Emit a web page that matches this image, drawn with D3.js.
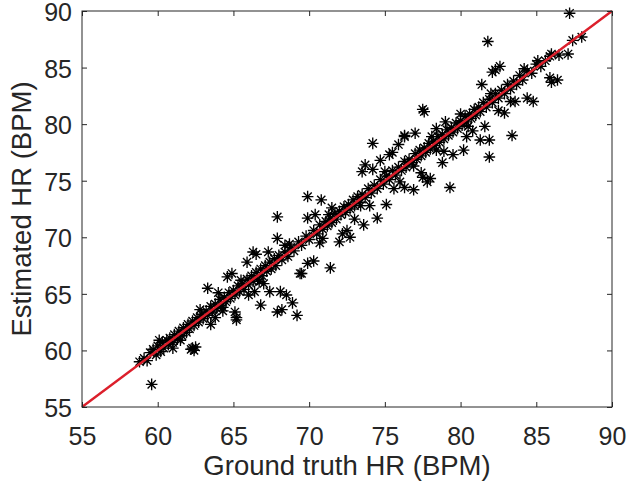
<!DOCTYPE html>
<html><head><meta charset="utf-8">
<script src="https://cdn.jsdelivr.net/npm/d3@7"></script>
<style>body{margin:0;background:#fff}svg{display:block}</style>
</head><body>
<script>
// ---- data: [ground truth HR, estimated HR] ----
const axisTicks = [55, 60, 65, 70, 75, 80, 85, 90];
const xLabel = "Ground truth HR (BPM)";
const yLabel = "Estimated HR (BPM)";

const bandPoints = [
 [58.8,59.0],[59.1,59.3],[59.3,59.1],[59.5,59.8],[59.7,60.1],[59.9,59.6],[60.0,60.4],[60.2,59.9],[60.3,60.7],[60.4,60.2],
 [60.6,60.9],[60.7,60.5],[60.8,61.1],[61.0,60.7],[61.1,61.4],[61.3,61.0],[61.4,61.7],[61.6,61.3],[61.7,62.0],[61.9,61.6],
 [62.0,62.3],[62.1,61.9],[62.3,62.6],[62.4,62.2],[62.6,62.9],[62.7,62.5],[62.9,63.2],[63.0,62.8],[63.2,63.5],[63.3,63.1],
 [63.5,63.9],[63.6,63.4],[63.8,64.1],[63.9,63.7],[64.1,64.5],[64.2,64.0],[64.4,64.7],[64.5,64.3],[64.7,65.1],[64.8,64.6],
 [65.0,65.3],[65.1,64.9],[65.3,65.7],[65.4,65.2],[65.6,65.9],[65.7,65.4],[65.9,66.3],[66.0,65.8],[66.2,66.6],[66.3,66.1],
 [66.5,66.9],[66.6,66.3],[66.8,67.2],[66.9,66.6],[67.1,67.5],[67.2,67.0],[67.4,67.8],[67.5,67.2],[67.7,68.1],[67.8,67.5],
 [68.0,68.4],[68.2,68.0],[68.4,68.7],[68.6,68.3],[68.8,69.1],[69.0,68.8],[69.3,69.6],[69.5,69.3],[69.8,70.1],[70.0,69.8],
 [70.3,70.6],[70.5,70.3],[70.7,71.1],[70.9,70.7],[71.1,71.4],[71.2,71.0],[71.4,71.7],[71.5,71.3],[71.7,72.1],[71.8,71.6],
 [72.0,72.3],[72.1,72.0],[72.3,72.7],[72.4,72.2],[72.6,72.9],[72.7,72.5],[72.9,73.3],[73.0,72.8],[73.2,73.6],[73.3,73.1],
 [73.5,73.8],[73.7,73.5],[73.9,74.3],[74.1,73.9],[74.3,74.6],[74.5,74.3],[74.7,75.1],[74.9,74.7],[75.1,75.4],[75.3,75.1],
 [75.5,75.9],[75.7,75.5],[75.9,76.2],[76.1,75.9],[76.3,76.7],[76.4,76.2],[76.6,76.9],[76.8,76.6],[77.0,77.4],[77.1,76.9],
 [77.3,77.7],[77.4,77.2],[77.6,77.9],[77.7,77.5],[77.9,78.3],[78.0,77.8],[78.2,78.5],[78.3,78.1],[78.5,78.9],[78.6,78.4],
 [78.8,79.1],[78.9,78.7],[79.1,79.5],[79.2,79.0],[79.4,79.7],[79.5,79.3],[79.7,80.1],[79.8,79.6],[80.0,80.3],[80.1,79.9],
 [80.3,80.7],[80.4,80.2],[80.6,80.9],[80.7,80.5],[80.9,81.3],[81.0,80.8],[81.2,81.5],[81.3,81.1],[81.5,81.9],[81.7,81.5],
 [81.9,82.2],[82.1,81.9],[82.3,82.7],[82.5,82.3],[82.7,83.0],[82.9,82.7],[83.1,83.5],[83.3,83.1],[83.5,83.8],[83.7,83.5],
 [83.9,84.3],[84.1,83.9],[84.4,84.7],[84.7,84.5],[85.0,85.3],[85.3,85.1],[85.6,85.6],[86.0,86.2],[86.5,86.1],
 [60.1,60.9],[61.5,60.9],[62.8,63.6],[64.3,63.8],[65.5,66.2],[66.7,66.1],[68.7,69.4],[71.3,72.0],[73.4,72.8],[75.0,75.8],
 [76.9,76.3],[78.1,78.9],[80.5,79.8],[82.0,82.7],[84.2,84.9]
];

const abovePoints = [
 [63.3,65.5],[64.0,65.1],[64.6,66.5],[64.9,66.8],[65.9,67.8],[66.3,68.7],[66.5,68.5],[67.3,68.7],[68.4,69.3],[67.9,69.9],
 [67.9,71.8],[69.9,73.6],[70.8,73.3],[69.9,71.7],[70.4,72.0],[73.5,75.8],[73.7,76.4],[74.2,76.0],[74.7,76.8],[75.3,77.3],
 [75.9,78.2],[76.3,79.0],[77.0,79.2],[74.2,78.3],[77.5,81.3],[77.6,81.1],[76.3,78.9],[80.0,80.9],[81.8,87.3],[82.3,84.8],
 [82.6,85.1],[82.1,84.6],[81.4,83.5],[87.2,89.8],[88.0,87.7],[87.4,87.4],[85.1,85.6],[85.9,86.0],[78.4,79.6],[79.0,80.2],
 [71.5,72.6],[75.5,77.5]
];

const belowPoints = [
 [59.6,57.0],[62.3,60.2],[62.4,60.0],[62.5,60.3],[62.2,60.1],[65.2,62.9],[65.1,63.4],[66.8,64.0],[68.2,63.6],[69.2,63.1],
 [68.9,64.2],[67.4,65.2],[68.1,65.2],[68.5,64.9],[66.4,65.2],[69.9,67.7],[69.5,66.8],[70.3,67.9],[71.4,67.3],[69.4,66.8],
 [72.0,69.6],[72.5,70.6],[72.7,70.0],[70.7,69.5],[73.6,71.1],[74.5,71.7],[75.1,72.9],[76.9,74.2],[76.3,74.4],[77.5,75.3],
 [78.0,75.2],[77.4,75.7],[78.4,77.7],[78.8,76.6],[79.5,77.3],[80.2,77.7],[80.4,78.9],[79.3,74.4],[81.3,78.6],[81.9,78.6],
 [81.9,77.1],[81.6,79.8],[83.4,79.0],[82.9,81.0],[83.6,82.0],[83.3,82.0],[84.4,82.3],[84.8,82.0],[85.9,84.1],[86.4,83.9],
 [86.0,83.7],[87.1,86.2],[61.0,60.2],[63.8,62.9],[64.3,63.5],[66.0,64.9],[67.0,65.9],[70.9,69.9],[73.0,71.6],[74.0,72.8],
 [75.6,74.3],[76.0,74.9],[78.9,77.6],[80.8,79.4],[82.5,81.2],[63.5,62.3],[65.2,62.7],[67.9,63.4],[72.2,70.3],[77.8,74.9]
];

const points = bandPoints.concat(abovePoints, belowPoints);

// ---- layout ----
const W = 629, H = 489;
const L = 82, R = 612, T = 11, B = 407;
const ink = "#262626";
const font = "Liberation Sans, Arial, sans-serif";

const svg = d3.select("body").append("svg").attr("width", W).attr("height", H);
const x = d3.scaleLinear().domain([55, 90]).range([L, R]);
const y = d3.scaleLinear().domain([55, 90]).range([B, T]);

// points (asterisk markers)
const r = 5.8, d = r * 0.707;
const star = `M${-r},0L${r},0M0,${-r}L0,${r}M${-d},${-d}L${d},${d}M${-d},${d}L${d},${-d}`;
svg.append("g").selectAll("path").data(points).join("path")
  .attr("transform", p => `translate(${x(p[0])},${y(p[1])})`)
  .attr("d", star).attr("fill", "none").attr("stroke", "#000").attr("stroke-width", 1.35);

// identity line
svg.append("line")
  .attr("x1", x(55)).attr("y1", y(55)).attr("x2", x(90)).attr("y2", y(90))
  .attr("stroke", "#dc1f2b").attr("stroke-width", 2.4);

// axes
const tl = 5;
const axB = d3.axisBottom(x).tickValues(axisTicks).tickSize(-tl).tickPadding(20).tickFormat(d3.format("d"));
const axT = d3.axisTop(x).tickValues(axisTicks).tickSize(-tl).tickFormat("");
const axLft = d3.axisLeft(y).tickValues(axisTicks).tickSize(-tl).tickPadding(10).tickFormat(d3.format("d"));
const axRt = d3.axisRight(y).tickValues(axisTicks).tickSize(-tl).tickFormat("");

function style(g) {
  g.select(".domain").attr("stroke", ink).attr("stroke-width", 1);
  g.selectAll(".tick line").attr("stroke", ink).attr("stroke-width", 1);
  g.selectAll(".tick text").attr("fill", ink).attr("font-family", font).attr("font-size", 25);
}
svg.append("g").attr("transform", `translate(0,${B})`).call(axB).call(style);
svg.append("g").attr("transform", `translate(0,${T})`).call(axT).call(style);
svg.append("g").attr("transform", `translate(${L},0)`).call(axLft).call(style)
  .selectAll(".tick text").attr("dy", "0.38em");
svg.append("g").attr("transform", `translate(${R},0)`).call(axRt).call(style);
svg.selectAll(".domain").attr("d", null);
svg.append("rect").attr("x", L).attr("y", T).attr("width", R - L).attr("height", B - T)
  .attr("fill", "none").attr("stroke", ink).attr("stroke-width", 1);

// labels
svg.append("text").attr("x", (L + R) / 2).attr("y", 475).attr("text-anchor", "middle")
  .attr("font-family", font).attr("font-size", 27.5).attr("fill", ink).text(xLabel);
svg.append("text").attr("transform", `translate(31,${(T + B) / 2}) rotate(-90)`).attr("text-anchor", "middle")
  .attr("font-family", font).attr("font-size", 27.5).attr("fill", ink).text(yLabel);
</script>
</body></html>
